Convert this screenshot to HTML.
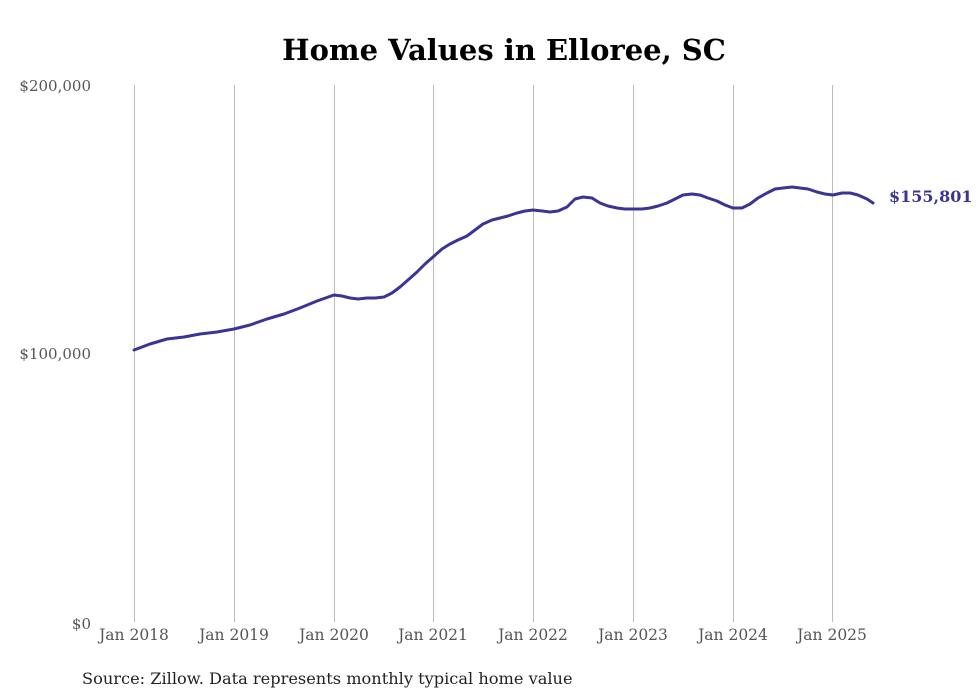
<!DOCTYPE html>
<html><head><meta charset="utf-8"><style>
body{margin:0;background:#fff;}
svg{display:block;font-family:"DejaVu Serif","Liberation Serif",serif;}
</style></head><body>
<svg width="980" height="699" viewBox="0 0 980 699" xmlns="http://www.w3.org/2000/svg">
<rect width="980" height="699" fill="#fff"/>
<text x="504" y="60" text-anchor="middle" font-size="29" font-weight="bold" fill="#000">Home Values in Elloree, SC</text>
<g stroke="#bbb" stroke-width="1">
<line x1="134.5" y1="85" x2="134.5" y2="622"/>
<line x1="234.5" y1="85" x2="234.5" y2="622"/>
<line x1="334.5" y1="85" x2="334.5" y2="622"/>
<line x1="433.5" y1="85" x2="433.5" y2="622"/>
<line x1="533.5" y1="85" x2="533.5" y2="622"/>
<line x1="633.5" y1="85" x2="633.5" y2="622"/>
<line x1="733.5" y1="85" x2="733.5" y2="622"/>
<line x1="832.5" y1="85" x2="832.5" y2="622"/>
</g>
<g font-size="15" fill="#555" text-anchor="end">
<text x="91" y="91">$200,000</text>
<text x="91" y="359">$100,000</text>
<text x="91" y="629">$0</text>
</g>
<g font-size="15.5" fill="#555" text-anchor="middle">
<text x="134" y="640">Jan 2018</text>
<text x="234" y="640">Jan 2019</text>
<text x="334" y="640">Jan 2020</text>
<text x="433" y="640">Jan 2021</text>
<text x="533" y="640">Jan 2022</text>
<text x="633" y="640">Jan 2023</text>
<text x="733" y="640">Jan 2024</text>
<text x="832" y="640">Jan 2025</text>
</g>
<polyline fill="none" stroke="#3a3494" stroke-width="3" stroke-linejoin="round" stroke-linecap="round" points="134,350 150,344 167,339 184,337 200,334 217,332 234,329 250,325 267,319 284,314 300,308 317,301 334,295 342,296 350,298 358,299 367,298 375,298 384,297 392,293 400,287 408,280 417,272 425,264 433,257 442,249 450,244 458,240 467,236 475,230 483,224 492,220 500,218 508,216 517,213 525,211 533,210 542,211 550,212 558,211 567,207 575,199 583,197 592,198 600,203 608,206 617,208 625,209 633,209 642,209 650,208 658,206 667,203 675,199 683,195 692,194 700,195 708,198 717,201 725,205 733,208 742,208 750,204 758,198 767,193 775,189 783,188 792,187 800,188 808,189 817,192 825,194 833,195 842,193 850,193 858,195 867,199 873,203"/>
<text x="889" y="202" font-size="16" font-weight="bold" fill="#3a3494">$155,801</text>
<text x="82" y="684" font-size="16.2" fill="#222">Source: Zillow. Data represents monthly typical home value</text>
</svg>
</body></html>
